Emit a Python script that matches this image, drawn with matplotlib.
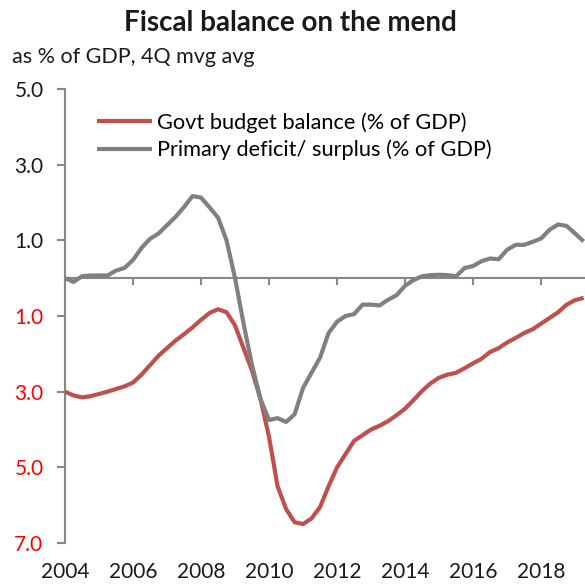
import matplotlib
matplotlib.use('Agg')
import matplotlib.pyplot as plt
import numpy as np

# ----------------------------- DATOS ---------------------------------------- #

START_YEAR = 2004
# trimestral, 2004Q1 .. 2019Q2 (promedio movil 4T, % del PIB)
BUDGET_BALANCE = [
    -3.00, -3.10, -3.15, -3.12, -3.06, -3.00, -2.93, -2.86,
    -2.76, -2.55, -2.30, -2.05, -1.85, -1.65, -1.48, -1.30,
    -1.10, -0.92, -0.82, -0.90, -1.25, -1.85, -2.45, -3.20,
    -4.20, -5.50, -6.10, -6.45, -6.50, -6.35, -6.05, -5.50,
    -5.00, -4.65, -4.30, -4.15, -4.00, -3.90, -3.78, -3.62,
    -3.45, -3.22, -2.98, -2.78, -2.63, -2.55, -2.50, -2.38,
    -2.25, -2.13, -1.95, -1.85, -1.70, -1.58, -1.45, -1.35,
    -1.20, -1.05, -0.90, -0.70, -0.58, -0.52,
]
PRIMARY_BALANCE = [
    0.00, -0.10, 0.05, 0.07, 0.07, 0.07, 0.20, 0.27,
    0.48, 0.80, 1.04, 1.18, 1.40, 1.62, 1.88, 2.17,
    2.13, 1.87, 1.60, 1.00, 0.00, -1.20, -2.30, -3.20,
    -3.75, -3.70, -3.80, -3.60, -2.90, -2.50, -2.10, -1.45,
    -1.15, -1.00, -0.95, -0.70, -0.70, -0.72, -0.57, -0.45,
    -0.20, -0.05, 0.05, 0.08, 0.09, 0.08, 0.05, 0.27,
    0.32, 0.45, 0.52, 0.50, 0.75, 0.88, 0.88, 0.96,
    1.05, 1.28, 1.42, 1.38, 1.18, 0.97,
]
LABELS = ["Govt budget balance (% of GDP)",
          "Primary deficit/ surplus (% of GDP)"]
Y_TICKS = [5, 3, 1, -1, -3, -5, -7]
X_TICKS = list(range(2004, 2019, 2))

TITLE = "Fiscal balance on the mend"
SUBTITLE = "as % of GDP, 4Q mvg avg"

RED = "#C0504D"
GREY = "#808080"
AXIS = "#878787"

plt.rcParams['font.family'] = ['Lato', 'DejaVu Sans']


def main():
    years = START_YEAR + np.arange(len(BUDGET_BALANCE)) / 4.0

    fig = plt.figure(figsize=(5.85, 5.84), dpi=100)
    ax = fig.add_axes([65 / 585, 1 - 543 / 584, 520 / 585, 454 / 584])

    ax.plot(years, BUDGET_BALANCE, color=RED, lw=3.0, label=LABELS[0],
            solid_capstyle='butt', zorder=3)
    ax.plot(years, PRIMARY_BALANCE, color=GREY, lw=3.0, label=LABELS[1],
            solid_capstyle='butt', zorder=3)

    ax.set_xlim(2004, 2019.29)
    ax.set_ylim(-7, 5)

    # eje x sobre el cero, etiquetas abajo
    for s in ('top', 'right'):
        ax.spines[s].set_visible(False)
    ax.spines['bottom'].set_position(('data', 0))
    ax.spines['bottom'].set_color(AXIS)
    ax.spines['bottom'].set_linewidth(1.5)
    ax.spines['left'].set_color(AXIS)
    ax.spines['left'].set_linewidth(1.5)
    ax.set_xticks(X_TICKS)
    ax.tick_params(axis='x', direction='out', length=5, width=1.5,
                   color=AXIS, labelbottom=False)

    sec = ax.secondary_xaxis('bottom')
    sec.spines['bottom'].set_visible(False)
    sec.set_xticks(X_TICKS)
    sec.set_xticklabels([str(y) for y in X_TICKS])
    sec.tick_params(axis='x', length=0, pad=14, labelsize=15,
                    labelcolor='#1a1a1a')

    ax.set_yticks(Y_TICKS)
    ax.set_yticklabels([f"{abs(v):.1f}" for v in Y_TICKS])
    ax.tick_params(axis='y', direction='out', length=6, width=1.5,
                   color=AXIS, pad=9.5, labelsize=15)
    for lab, v in zip(ax.get_yticklabels(), Y_TICKS):
        lab.set_color('#FF0000' if v < 0 else '#1a1a1a')

    ax.legend(loc='upper left', bbox_to_anchor=(97 / 585, 1 - 112 / 584),
              bbox_transform=fig.transFigure, frameon=False, fontsize=15.7,
              handlelength=2.5, handletextpad=0.25, labelspacing=0.32,
              borderaxespad=0, borderpad=0)

    fig.text(0.497, 1 - 23 / 584, TITLE, ha='center', va='center',
             fontsize=20, fontweight='bold', color='#1a1a1a')
    fig.text(12 / 585, 1 - 57 / 584, SUBTITLE, ha='left', va='center',
             fontsize=15.5, color='#1a1a1a')

    fig.savefig("out.png", dpi=100)
    plt.close(fig)


if __name__ == "__main__":
    main()
